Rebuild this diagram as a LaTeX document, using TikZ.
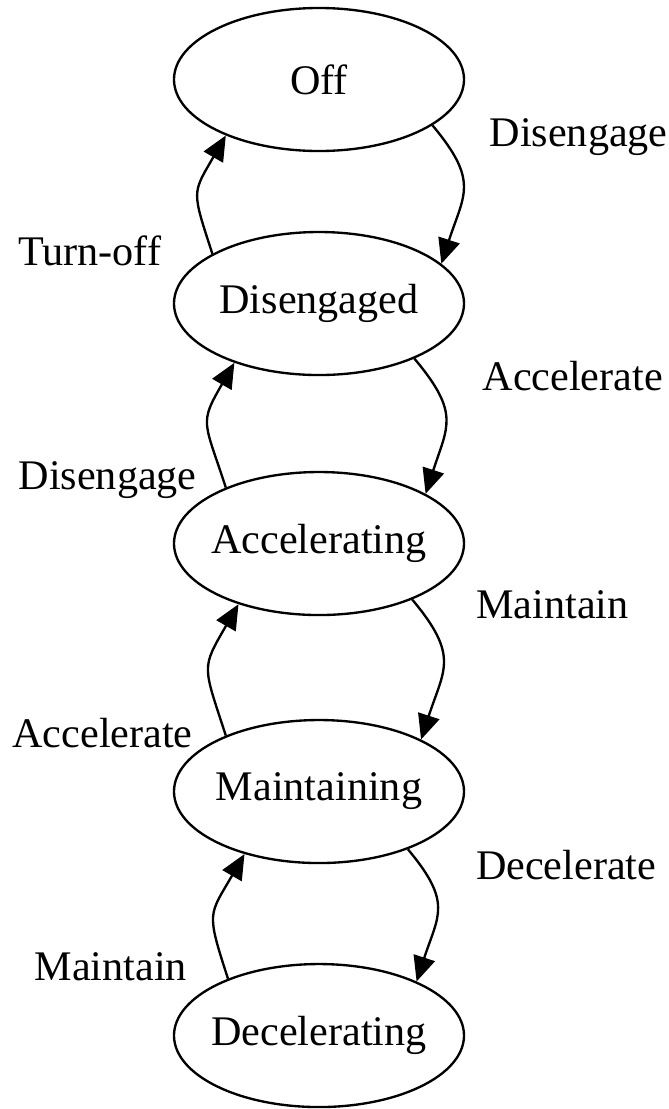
\documentclass[tikz,border=0pt]{standalone}
\usepackage{fontspec}
\setmainfont{Liberation Serif}
\usepackage{tikz}
\usetikzlibrary{shapes.geometric}
\usetikzlibrary{arrows.meta}
\usetikzlibrary{positioning}
\tikzset{state/.style={draw=black, ellipse, minimum width=8.7cm, minimum height=4.29cm, inner xsep=-8pt}}
\tikzset{next/.style={-{Triangle[length=7.5mm,width=6.6mm]}, out=-50, in=72, looseness=1.35}}
\tikzset{prev/.style={-{Triangle[length=7.5mm,width=6.6mm]}, out=108, in=-120, looseness=1.45}}
\tikzset{lbl/.style={inner sep=0pt}}

\begin{document}
\begin{tikzpicture}[x=0.03cm, y=-0.03cm, node distance=7.2cm, line width=2pt, font=\fontsize{36}{43}\selectfont]
		\useasboundingbox (0,0) rectangle (669,1109);
		\node[state] (off) at (319,79.5) {Off};
		\node[state] (dis) [below of=off, node distance=6.72cm] {Disengaged};
		\node[state] (acc) [below of=dis] {Accelerating};
		\node[state] (main) [below of=acc, node distance=7.44cm] {Maintaining};
		\node[state] (dec) [below of=main, node distance=7.32cm] {Decelerating};
		
		% going down, labels on the right
		\draw[next] (off.-22) to node[lbl, pos=0, anchor=west, xshift=1.68cm, yshift=-0.36cm] (t1) {Disengage} (dis.18);
		\draw[next] (dis.-30) to node[lbl, pos=0, anchor=west, xshift=2.01cm, yshift=-0.51cm] (t2) {Accelerate} (acc.25);
		\draw[next] (acc.-31) to node[lbl, pos=0, anchor=west, xshift=1.89cm, yshift=-0.15cm] (t3) {Maintain} (main.27);
		\draw[next] (main.-33) to node[lbl, pos=0, anchor=west, xshift=2.01cm, yshift=-0.48cm] (t4) {Decelerate} (dec.29);
		
		% going up, labels on the left
		\draw[prev] (dis.155) to node[lbl, pos=0, anchor=east, xshift=-1.5cm, yshift=0.09cm] (b1) {Turn-off} (off.211);
		\draw[prev] (acc.149) to node[lbl, pos=0, anchor=east, xshift=-0.84cm, yshift=0.21cm] (b2) {Disengage} (dis.215);
		\draw[prev] (main.149) to node[lbl, pos=0, anchor=east, xshift=-0.96cm, yshift=0.06cm] (b3) {Accelerate} (acc.217);
		\draw[prev] (dec.148) to node[lbl, pos=0, anchor=east, xshift=-1.2cm, yshift=0.36cm] (b4) {Maintain} (main.220);
	\end{tikzpicture}
\end{document}
